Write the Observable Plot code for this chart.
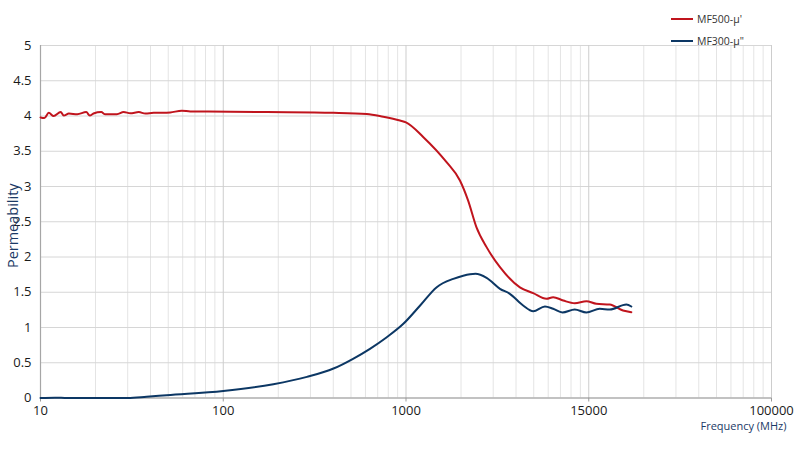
<!DOCTYPE html>
<html>
<head>
<meta charset="utf-8">
<script src="https://cdn.jsdelivr.net/npm/d3@7"></script>
<script src="https://cdn.jsdelivr.net/npm/@observablehq/plot@0.6"></script>
<style>
  html, body { margin: 0; padding: 0; background: #fff; }
  #wrap { position: relative; width: 800px; height: 456px; font-family: "Open Sans", "Noto Sans", sans-serif; }
  #legend { position: absolute; left: 671px; top: 0; font-size: 10.5px; color: #333; }
  .item { position: absolute; left: 0; display: flex; align-items: center; white-space: nowrap; }
  .swatch { width: 22px; height: 2px; margin-right: 4px; }
</style>
</head>
<body>
<div id="wrap">
  <div id="chart"></div>
  <div id="legend"></div>
</div>
<script>
// Series names and colors
const seriesNames = ["MF500-μ'", "MF300-μ\""];
const seriesColors = ["#c0141d", "#0c3764"];

// MF500-μ' (frequency MHz, permeability)
const redFreq = [10, 10.5, 11.1, 11.8, 12.9, 13.4, 14.3, 15.9, 17.8, 18.6, 19.5, 21.5, 22.6, 26.2, 28.5, 31.0, 34.5, 37.5, 41.6, 47.2, 51.3, 59.3, 66, 109, 173, 401, 610, 751, 927, 1000, 1245, 1667, 1973, 2188, 2431, 2760, 3268, 4200, 4966, 5875, 6385, 7248, 8380, 9710, 11010, 13030, 15390, 17100];
const redVal  = [3.98, 3.97, 4.045, 4.0, 4.055, 4.007, 4.035, 4.025, 4.055, 4.007, 4.035, 4.055, 4.025, 4.025, 4.055, 4.04, 4.055, 4.035, 4.045, 4.045, 4.05, 4.075, 4.065, 4.06, 4.055, 4.045, 4.03, 3.99, 3.936, 3.91, 3.70, 3.345, 3.085, 2.80, 2.42, 2.14, 1.855, 1.57, 1.487, 1.407, 1.43, 1.383, 1.345, 1.373, 1.336, 1.326, 1.241, 1.217];

// MF300-μ" (frequency MHz, permeability)
const blueFreq = [10, 12, 14, 20, 30, 38, 49, 100, 188, 287, 401, 516, 635, 785, 967, 1195, 1473, 1815, 2056, 2240, 2400, 2760, 3268, 3700, 4375, 4966, 5757, 6385, 7180, 8380, 9710, 11480, 13030, 16070, 17100];
const blueVal  = [0.0, 0.005, 0.0, 0.0, 0.0, 0.017, 0.04, 0.10, 0.196, 0.30, 0.418, 0.56, 0.698, 0.862, 1.052, 1.312, 1.572, 1.69, 1.735, 1.755, 1.762, 1.705, 1.549, 1.478, 1.312, 1.231, 1.298, 1.265, 1.213, 1.255, 1.213, 1.265, 1.255, 1.326, 1.298];

// Axis ticks
const xTicks = [10, 100, 1000, 10000, 100000];
const xTickLabels = ["10", "100", "1000", "15000", "100000"];
const yTicks = [0, 0.5, 1, 1.5, 2, 2.5, 3, 3.5, 4, 4.5, 5];

const red = redFreq.map((f, i) => ({f, v: redVal[i]}));
const blue = blueFreq.map((f, i) => ({f, v: blueVal[i]}));

const minorX = [];
for (let d = 10; d < 100000; d *= 10) for (let k = 2; k <= 9; k++) minorX.push(d * k);

const chart = Plot.plot({
  width: 800,
  height: 456,
  marginLeft: 40,
  marginRight: 29,
  marginTop: 45,
  marginBottom: 58.5,
  style: {fontFamily: "'Open Sans', 'Noto Sans', sans-serif", fontSize: "13px", color: "#1a1a1a", background: "#fff"},
  x: {type: "log", domain: [10, 100000]},
  y: {domain: [0, 5]},
  marks: [
    Plot.ruleX(minorX, {stroke: "#e4e4e4", strokeWidth: 1}),
    Plot.ruleY(yTicks, {stroke: "#d6d6d6", strokeWidth: 1}),
    Plot.ruleX(xTicks, {stroke: "#cdcdcd", strokeWidth: 1}),
    Plot.axisX({ticks: xTicks, tickFormat: (d) => xTickLabels[xTicks.indexOf(d)], tickSize: 4, tickPadding: 4, stroke: "#9a9a9a", label: null, fontSize: 13}),
    Plot.axisY({ticks: yTicks, tickFormat: (d) => String(d), tickSize: 0, tickPadding: 9, label: null, fontSize: 13}),
    Plot.ruleY([0], {stroke: "#9a9a9a", strokeWidth: 1.2}),
    Plot.ruleX([10], {stroke: "#a6a6a6", strokeWidth: 1.2}),
    Plot.line(red, {x: "f", y: "v", stroke: seriesColors[0], strokeWidth: 2, curve: "monotone-x"}),
    Plot.line(blue, {x: "f", y: "v", stroke: seriesColors[1], strokeWidth: 2, curve: "monotone-x"}),
    Plot.text(["Permeability"], {frameAnchor: "left", textAnchor: "middle", rotate: -90, dx: -27, dy: 4, fill: "#1b3a66", fontSize: 14.5}),
    Plot.text(["Frequency (MHz)"], {frameAnchor: "bottom-right", textAnchor: "end", dx: 15, dy: 32, fill: "#1b3a66", fontSize: 11})
  ]
});
document.getElementById("chart").appendChild(chart);

const legend = document.getElementById("legend");
const tops = [12, 34];
seriesNames.forEach((name, i) => {
  const item = document.createElement("div");
  item.className = "item";
  item.style.top = tops[i] + "px";
  const sw = document.createElement("span");
  sw.className = "swatch";
  sw.style.background = seriesColors[i];
  const t = document.createElement("span");
  t.textContent = name;
  item.appendChild(sw);
  item.appendChild(t);
  legend.appendChild(item);
});
</script>
</body>
</html>
